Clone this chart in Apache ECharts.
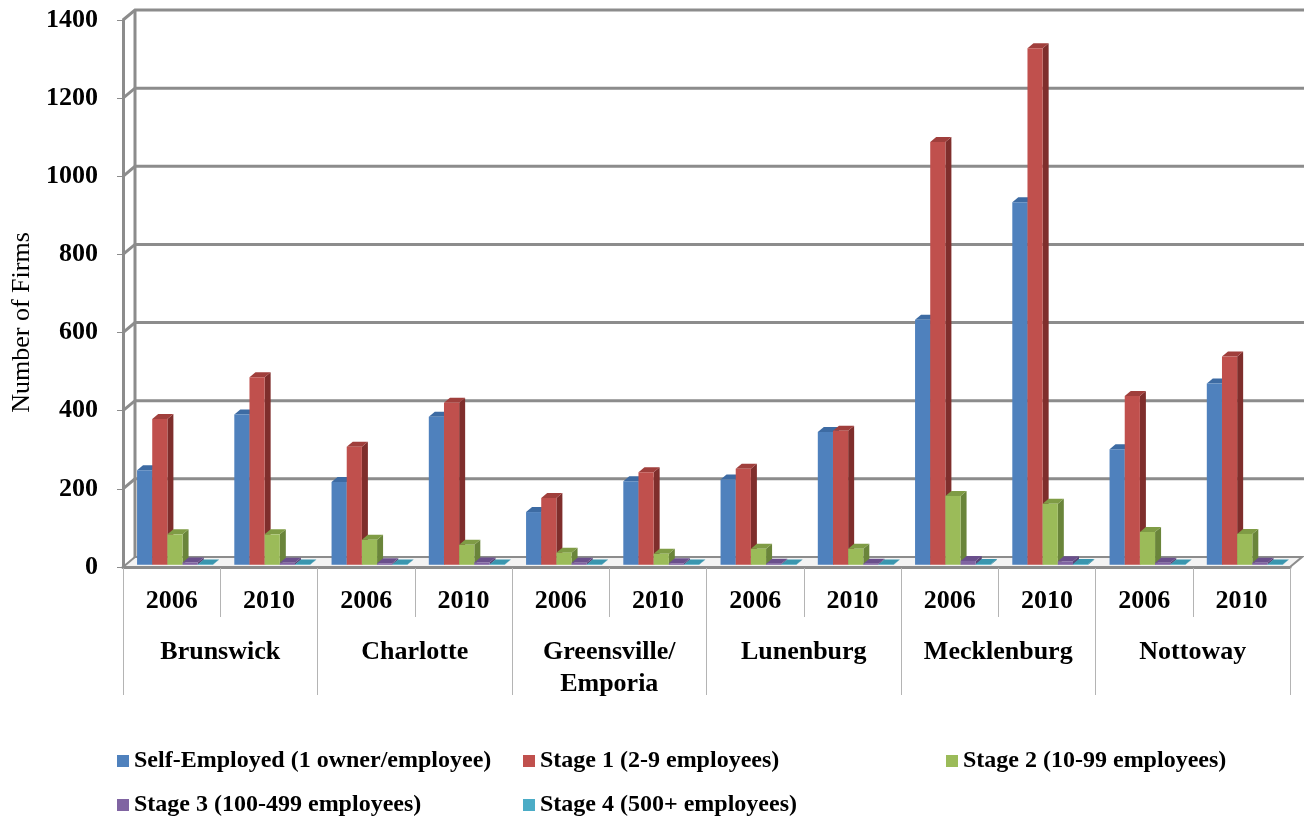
<!DOCTYPE html>
<html>
<head>
<meta charset="utf-8">
<title>Number of Firms by Stage</title>
<script src="https://cdn.jsdelivr.net/npm/echarts@6/dist/echarts.min.js"></script>
<style>
  html, body { margin: 0; padding: 0; background: #ffffff; }
  #chart { width: 1304px; height: 820px; }
</style>
</head>
<body>
<div id="chart"></div>
<script>
// ---- data ----
const years = ['2006', '2010', '2006', '2010', '2006', '2010', '2006', '2010', '2006', '2010', '2006', '2010'];
const counties = ['Brunswick', 'Charlotte', 'Greensville/\nEmporia', 'Lunenburg', 'Mecklenburg', 'Nottoway'];
const seriesNames = [
  'Self-Employed (1 owner/employee)',
  'Stage 1 (2-9 employees)',
  'Stage 2 (10-99 employees)',
  'Stage 3 (100-499 employees)',
  'Stage 4 (500+ employees)'
];
const selfEmployed = [242, 385, 212, 379, 135, 214, 218, 340, 627, 928, 296, 464];
const stage1       = [373, 480, 302, 415, 171, 237, 246, 343, 1082, 1322, 432, 533];
const stage2       = [78, 78, 64, 51, 31, 28, 41, 41, 176, 156, 84, 79];
const stage3       = [6, 5, 4, 6, 5, 4, 3, 3, 10, 9, 5, 5];
const stage4       = [1, 1, 1, 1, 1, 1, 1, 1, 2, 2, 1, 1];
const yTicks = [0, 200, 400, 600, 800, 1000, 1200, 1400];

// ---- styling ----
const FONT = '"Liberation Serif", "Times New Roman", serif';
const FRAME = '#8c8c8c';
const DEPTH = { dx: 12, dy: -10 };          // offset from front plane to back wall
const faces = [
  { front: '#4F81BD', side: '#385D8A', top: '#3D6BA3' },
  { front: '#C0504D', side: '#7F2E2C', top: '#A03F3C' },
  { front: '#9BBB59', side: '#6A853A', top: '#7F9C45' },
  { front: '#8064A2', side: '#5A4576', top: '#6A4F8C' },
  { front: '#4BACC6', side: '#2F8096', top: '#3A96AF' }
];
const seriesData = [selfEmployed, stage1, stage2, stage3, stage4];

// back wall, floor and gridlines of the 3-D box
function renderFrame(params, api) {
  const cs = params.coordSys;
  const v = api.value(1);
  const y = api.coord([0, v])[1];
  const x0 = cs.x, x1 = cs.x + cs.width;
  const dx = DEPTH.dx, dy = DEPTH.dy;
  if (v === 0) {
    return {
      type: 'group',
      children: [
        {
          type: 'polygon',
          shape: { points: [[x0, y], [x1, y], [x1 + dx, y + dy], [x0 + dx, y + dy]] },
          style: { fill: '#f3f3f3', stroke: FRAME, lineWidth: 2 }
        },
        {
          type: 'line',
          shape: { x1: x0 + dx, y1: y + dy, x2: x0 + dx, y2: cs.y + dy },
          style: { stroke: FRAME, lineWidth: 3 }
        }
      ]
    };
  }
  return {
    type: 'polyline',
    shape: { points: [[x0, y], [x0 + dx, y + dy], [x1 + dx + 10, y + dy]] },
    style: { stroke: FRAME, lineWidth: 3, fill: null }
  };
}

// one 3-D column: side face, top face, then front face
function barRenderer(k) {
  const c = faces[k];
  return function (params, api) {
    const idx = api.value(0);
    const val = api.value(1);
    const base = api.coord([idx, 0]);
    const top = api.coord([idx, val]);
    const band = api.size([1, 0])[0];
    const bw = band * 0.156;
    const ox = DEPTH.dx * 0.28, oy = DEPTH.dy * 0.22;
    const sx = DEPTH.dx * 0.5, sy = DEPTH.dy * 0.5;
    const x = base[0] - 2.5 * bw + ox + k * bw;
    const yb = base[1] + oy;
    const yt = top[1] + oy;
    return {
      type: 'group',
      children: [
        {
          type: 'polygon',
          shape: { points: [[x + bw, yt], [x + bw + sx, yt + sy], [x + bw + sx, yb + sy], [x + bw, yb]] },
          style: { fill: c.side }
        },
        {
          type: 'polygon',
          shape: { points: [[x, yt], [x + sx, yt + sy], [x + bw + sx, yt + sy], [x + bw, yt]] },
          style: { fill: c.top }
        },
        {
          type: 'rect',
          shape: { x: x, y: yt, width: bw, height: Math.max(yb - yt, 0.5) },
          style: { fill: c.front }
        }
      ]
    };
  };
}

const legendPos = [
  { left: 117, top: 749 },
  { left: 523, top: 749 },
  { left: 946, top: 749 },
  { left: 117, top: 793 },
  { left: 523, top: 793 }
];

const chart = echarts.init(document.getElementById('chart'), null, { renderer: 'canvas' });

const option = {
  animation: false,
  backgroundColor: '#ffffff',
  textStyle: { fontFamily: FONT },
  grid: { left: 123, right: 14, top: 20, bottom: 253, containLabel: false },
  legend: seriesNames.map((name, i) => ({
    data: [name],
    left: legendPos[i].left,
    top: legendPos[i].top,
    padding: 0,
    icon: 'rect',
    itemWidth: 12,
    itemHeight: 12,
    selectedMode: false,
    textStyle: { fontFamily: FONT, fontWeight: 'bold', fontSize: 24, color: '#000' }
  })),
  xAxis: [
    {
      type: 'category',
      data: years,
      position: 'bottom',
      boundaryGap: true,
      axisLine: { show: true, lineStyle: { color: FRAME, width: 3 } },
      axisTick: { show: true, interval: 0, length: 50, lineStyle: { color: '#b4b4b4', width: 1 } },
      axisLabel: { interval: 0, margin: 21, fontFamily: FONT, fontWeight: 'bold', fontSize: 26, color: '#000' },
      splitLine: { show: false }
    },
    {
      type: 'category',
      data: counties,
      position: 'bottom',
      boundaryGap: true,
      axisLine: { show: false },
      axisTick: { show: true, interval: 0, length: 128, lineStyle: { color: '#b4b4b4', width: 1 } },
      axisLabel: { interval: 0, margin: 69, fontFamily: FONT, fontWeight: 'bold', fontSize: 26, lineHeight: 32, color: '#000' },
      splitLine: { show: false }
    }
  ],
  yAxis: {
    type: 'value',
    min: 0,
    max: 1400,
    interval: 200,
    name: 'Number of Firms',
    nameLocation: 'middle',
    nameGap: 86,
    nameTextStyle: { fontFamily: FONT, fontSize: 26, color: '#000', padding: [0, 58, 0, 0] },
    axisLine: { show: true, lineStyle: { color: FRAME, width: 3 } },
    axisTick: { show: true, length: 6, lineStyle: { color: FRAME, width: 1 } },
    axisLabel: {
      margin: 25, fontFamily: FONT, fontWeight: 'bold', fontSize: 26, color: '#000',
      formatter: v => String(v)
    },
    splitLine: { show: false }
  },
  series: [
    {
      type: 'custom',
      name: 'frame',
      silent: true,
      xAxisIndex: 0,
      renderItem: renderFrame,
      encode: { x: 0, y: 1 },
      data: yTicks.map(v => [0, v]),
      z: 1
    }
  ].concat(seriesNames.map((name, k) => ({
    type: 'custom',
    name: name,
    xAxisIndex: 0,
    itemStyle: { color: faces[k].front },
    renderItem: barRenderer(k),
    encode: { x: 0, y: 1 },
    data: seriesData[k].map((v, i) => [i, v]),
    z: 2
  })))
};

chart.setOption(option);
</script>
</body>
</html>
